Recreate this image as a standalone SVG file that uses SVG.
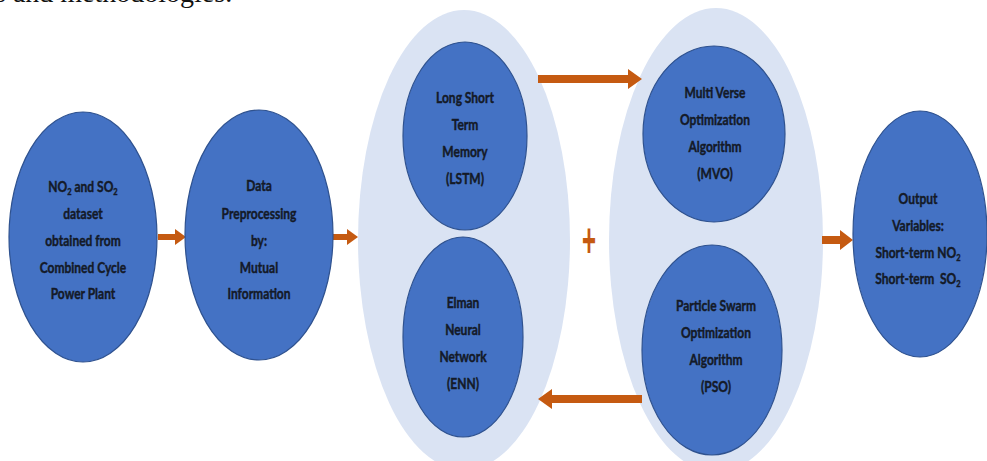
<svg xmlns="http://www.w3.org/2000/svg" width="987" height="461" viewBox="0 0 987 461">
<style>
.bg{fill:#ffffff}
.grp{fill:#DAE3F3;stroke:none}
.nd{fill:#4472C4;stroke:#2F528F;stroke-width:1.2}
.lbl{font-family:Lato,"Liberation Sans",sans-serif;font-weight:700;font-size:16px;fill:#141a28;stroke:#141a28;stroke-width:0.45;text-anchor:middle}
.sub{font-size:10px}
.arr{fill:#C55A11;stroke:none}
.cap{font-family:"Liberation Serif",serif;font-size:28px;fill:#111}
</style>
<rect class="bg" x="0" y="0" width="987" height="461"/>
<text class="cap" x="-5" y="2">s and methodologies.</text>

<g id="group-models">
  <ellipse class="grp" cx="464" cy="240" rx="106" ry="230"/>
</g>
<g id="group-optimizers">
  <ellipse class="grp" cx="716" cy="240" rx="107" ry="232"/>
</g>

<g id="connectors">
  <polygon class="arr" points="158,234 175,234 175,229 186,237 175,245 175,240 158,240"/>
  <polygon class="arr" points="333,234 347,234 347,229 358,237 347,245 347,240 333,240"/>
  <polygon class="arr" points="538,75 628,75 628,69 642,79 628,89 628,83 538,83"/>
  <polygon class="arr" points="642,395 552,395 552,389 538,399 552,409 552,403 642,403"/>
  <polygon class="arr" points="822,236 840,236 840,230 853,240 840,250 840,244 822,244"/>
  <text x="0" y="0" transform="translate(589 257) scale(0.8 1.6)" style="font-family:'Liberation Sans',sans-serif;font-weight:700;font-size:30px;fill:#C55A11;text-anchor:middle">+</text>
</g>

<g id="dataset">
  <ellipse class="nd" cx="83" cy="237" rx="74" ry="125"/>
  <g transform="translate(83 0) scale(0.75 1)">
    <text class="lbl" x="0" y="192">NO<tspan class="sub" dy="3">2</tspan><tspan dy="-3"> and SO</tspan><tspan class="sub" dy="3">2</tspan></text>
    <text class="lbl" x="0" y="219">dataset</text>
    <text class="lbl" x="0" y="246">obtained from</text>
    <text class="lbl" x="0" y="273">Combined Cycle</text>
    <text class="lbl" x="0" y="299">Power Plant</text>
  </g>
</g>

<g id="preprocessing">
  <ellipse class="nd" cx="259" cy="235" rx="74" ry="125"/>
  <g transform="translate(259 0) scale(0.75 1)">
    <text class="lbl" x="0" y="191">Data</text>
    <text class="lbl" x="0" y="219">Preprocessing</text>
    <text class="lbl" x="0" y="246">by:</text>
    <text class="lbl" x="0" y="273">Mutual</text>
    <text class="lbl" x="0" y="299">Information</text>
  </g>
</g>

<g id="lstm">
  <ellipse class="nd" cx="465" cy="136" rx="62" ry="94"/>
  <g transform="translate(465 0) scale(0.75 1)">
    <text class="lbl" x="0" y="103">Long Short</text>
    <text class="lbl" x="0" y="130">Term</text>
    <text class="lbl" x="0" y="157">Memory</text>
    <text class="lbl" x="0" y="184">(LSTM)</text>
  </g>
</g>

<g id="enn">
  <ellipse class="nd" cx="463" cy="337" rx="60" ry="100"/>
  <g transform="translate(463 0) scale(0.75 1)">
    <text class="lbl" x="0" y="308">Elman</text>
    <text class="lbl" x="0" y="335">Neural</text>
    <text class="lbl" x="0" y="362">Network</text>
    <text class="lbl" x="0" y="389">(ENN)</text>
  </g>
</g>

<g id="mvo">
  <ellipse class="nd" cx="714" cy="134" rx="71" ry="88"/>
  <g transform="translate(715 0) scale(0.75 1)">
    <text class="lbl" x="0" y="98">Multi Verse</text>
    <text class="lbl" x="0" y="125">Optimization</text>
    <text class="lbl" x="0" y="152">Algorithm</text>
    <text class="lbl" x="0" y="179">(MVO)</text>
  </g>
</g>

<g id="pso">
  <ellipse class="nd" cx="712" cy="350" rx="70" ry="105"/>
  <g transform="translate(716 0) scale(0.75 1)">
    <text class="lbl" x="0" y="311">Particle Swarm</text>
    <text class="lbl" x="0" y="338">Optimization</text>
    <text class="lbl" x="0" y="365">Algorithm</text>
    <text class="lbl" x="0" y="392">(PSO)</text>
  </g>
</g>

<g id="output">
  <ellipse class="nd" cx="920" cy="234" rx="67" ry="123"/>
  <g transform="translate(918 0) scale(0.75 1)">
    <text class="lbl" x="0" y="204">Output</text>
    <text class="lbl" x="0" y="231">Variables:</text>
    <text class="lbl" x="0" y="258">Short-term NO<tspan class="sub" dy="3">2</tspan></text>
    <text class="lbl" x="0" y="284">Short-term&#160; SO<tspan class="sub" dy="3">2</tspan></text>
  </g>
</g>
</svg>
